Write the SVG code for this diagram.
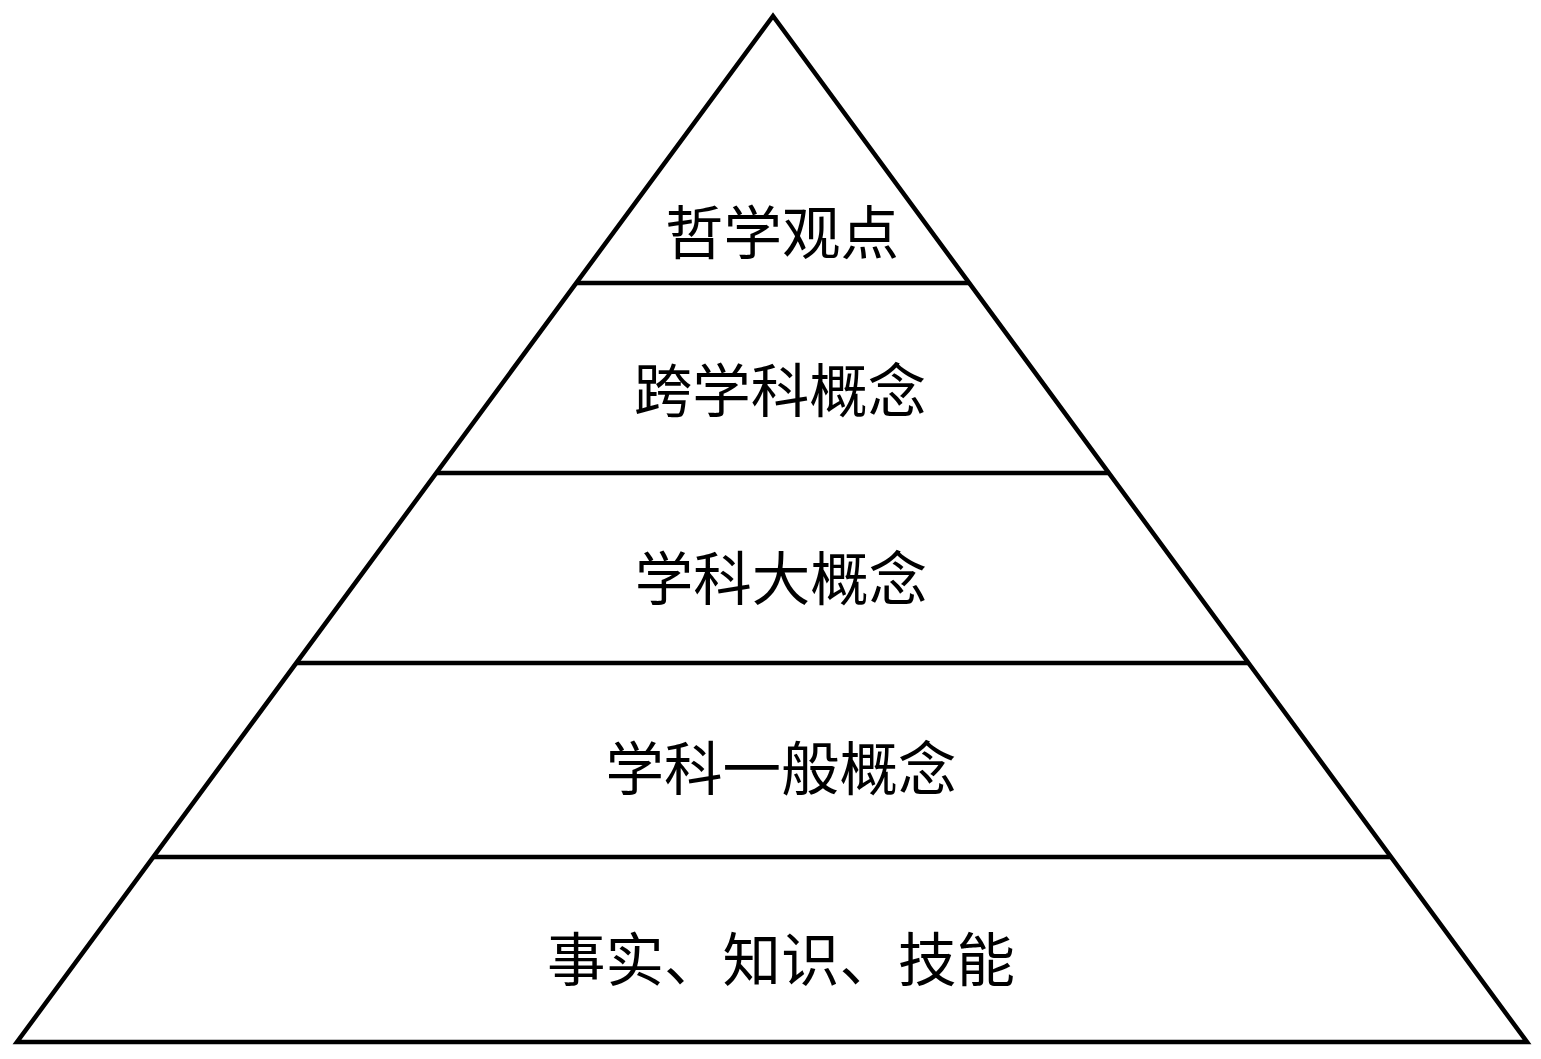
<svg xmlns="http://www.w3.org/2000/svg" width="1541" height="1059" viewBox="0 0 1541 1059">
<style>
.edge{stroke:#000;stroke-width:4.5;fill:none;stroke-linejoin:miter}
.lbl{font-family:"Liberation Serif","Noto Sans CJK SC",serif;font-size:58.5px;fill:#000;text-anchor:middle}
</style>
<rect width="1541" height="1059" fill="#fff"/>
<g id="connectors">
<polygon class="edge" points="773,16 17,1042 1527,1042"/>
<line class="edge" x1="576" y1="283" x2="969" y2="283"/>
<line class="edge" x1="436" y1="473" x2="1109" y2="473"/>
<line class="edge" x1="296" y1="663" x2="1248" y2="663"/>
<line class="edge" x1="153" y1="857" x2="1391" y2="857"/>
</g>
<g id="level1"><text class="lbl" x="782" y="254">哲学观点</text></g>
<g id="level2"><text class="lbl" x="780" y="412">跨学科概念</text></g>
<g id="level3"><text class="lbl" x="781" y="600">学科大概念</text></g>
<g id="level4"><text class="lbl" x="781" y="790">学科一般概念</text></g>
<g id="level5"><text class="lbl" x="781" y="981">事实、知识、技能</text></g>
</svg>
